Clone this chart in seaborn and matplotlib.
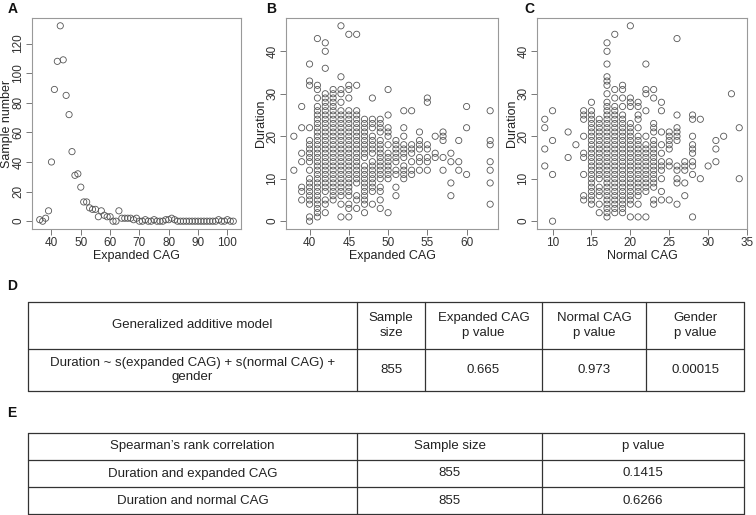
import seaborn as sns
import numpy as np
import pandas as pd
import matplotlib.pyplot as plt

# panel A: number of samples per expanded CAG length
a_cag = [36, 37, 38, 39, 40, 41, 42, 43, 44, 45, 46, 47, 48, 49, 50, 51, 52,
         53, 54, 55, 56, 57, 58, 59, 60, 61, 62, 63, 64, 65, 66, 67, 68, 69,
         70, 71, 72, 73, 74, 75, 76, 77, 78, 79, 80, 81, 82, 83, 84, 85, 86,
         87, 88, 89, 90, 91, 92, 93, 94, 95, 96, 97, 98, 99, 100, 101, 102]
a_count = [1, 0, 2, 7, 40, 89, 108, 132, 109, 85, 72, 47, 31, 32, 23, 13, 13,
           9, 8, 8, 3, 7, 4, 3, 3, 0, 0, 7, 2, 2, 2, 2, 1, 2,
           0, 0, 1, 0, 0, 1, 0, 0, 0, 1, 1, 2, 1, 0, 0, 0, 0,
           0, 0, 0, 0, 0, 0, 0, 0, 0, 0, 1, 0, 0, 1, 0, 0]

# panel B: duration vs expanded CAG (one list of durations per CAG value)
b_cag = [38, 39, 40, 41, 42, 43, 44, 45, 46, 47, 48, 49, 50, 51, 52, 53, 54,
         55, 56, 57, 58, 59, 60, 63]
b_duration = [
    [20, 12],
    [27, 22, 16, 14, 8, 7, 5],
    [37, 33, 32, 22, 19, 18, 17, 16, 15, 14, 12, 10, 9, 8, 7, 6, 5, 4, 1, 0],
    [43, 32, 31, 29, 27, 26, 25, 24, 23, 22, 21, 20, 19, 18, 17, 16, 15, 14,
     13, 12, 11, 10, 9, 8, 7, 6, 5, 4, 3, 2, 1],
    [42, 40, 36, 30, 29, 28, 27, 26, 25, 24, 23, 22, 21, 20, 19, 18, 17, 16,
     15, 14, 13, 12, 11, 10, 9, 8, 7, 5, 4, 2],
    [31, 30, 29, 28, 27, 26, 25, 24, 23, 22, 21, 20, 19, 18, 17, 16, 15, 14,
     13, 12, 11, 10, 9, 8, 7, 6, 5],
    [46, 34, 31, 30, 28, 26, 25, 24, 23, 22, 21, 20, 19, 18, 17, 16, 15, 14,
     13, 12, 11, 10, 9, 8, 7, 6, 4, 1],
    [44, 32, 31, 29, 26, 25, 24, 23, 22, 21, 20, 19, 18, 17, 16, 15, 14, 13,
     12, 11, 10, 9, 8, 7, 6, 4, 3, 1],
    [44, 32, 26, 25, 24, 23, 22, 21, 20, 19, 18, 17, 16, 15, 14, 13, 12, 11,
     10, 9, 6, 5, 3],
    [24, 23, 22, 21, 20, 19, 18, 17, 16, 15, 13, 12, 11, 10, 9, 8, 7, 6, 5, 4, 2],
    [29, 24, 23, 22, 20, 19, 18, 17, 16, 14, 13, 12, 11, 10, 9, 8, 7, 4],
    [24, 23, 22, 21, 19, 18, 17, 16, 15, 14, 13, 12, 11, 10, 8, 7, 5, 3],
    [31, 25, 22, 21, 20, 18, 16, 15, 14, 13, 12, 11, 10, 2],
    [19, 18, 17, 16, 15, 14, 12, 11, 8, 6],
    [26, 22, 20, 18, 17, 16, 15, 13, 12, 11, 10],
    [26, 18, 17, 16, 14, 12, 11],
    [21, 19, 18, 17, 15, 14, 12],
    [29, 28, 18, 17, 15, 14, 12],
    [20, 16, 15],
    [21, 20, 19, 15, 12],
    [16, 14, 9, 6],
    [19, 14, 12],
    [27, 22, 11],
    [26, 19, 18, 14, 12, 9, 4],
]

# panel C: duration vs normal CAG
c_cag = [9, 10, 12, 13, 14, 15, 16, 17, 18, 19, 20, 21, 22, 23, 24, 25, 26,
         27, 28, 29, 30, 31, 32, 33, 34]
c_duration = [
    [24, 22, 17, 13],
    [26, 19, 11, 0],
    [21, 15],
    [18],
    [26, 25, 24, 20, 16, 15, 11, 6, 5],
    [28, 26, 25, 24, 23, 22, 21, 20, 19, 18, 17, 16, 15, 14, 13, 12, 11, 10,
     9, 8, 7, 6, 5, 4],
    [24, 23, 22, 21, 20, 19, 18, 17, 16, 15, 14, 13, 12, 11, 10, 8, 7, 6, 4, 2],
    [42, 40, 37, 34, 33, 32, 30, 28, 27, 26, 25, 24, 23, 22, 21, 20, 19, 18,
     17, 16, 15, 14, 13, 12, 11, 10, 9, 8, 7, 6, 5, 4, 3, 2, 1],
    [44, 31, 29, 27, 26, 25, 24, 23, 22, 21, 20, 19, 18, 17, 16, 15, 14, 13,
     12, 11, 10, 9, 8, 7, 6, 5, 4, 3, 2],
    [32, 31, 29, 27, 25, 24, 23, 22, 21, 20, 19, 18, 17, 16, 15, 14, 13, 12,
     11, 10, 9, 8, 7, 6, 5, 4, 3, 2],
    [46, 29, 28, 27, 23, 22, 21, 20, 19, 18, 17, 16, 15, 14, 13, 12, 11, 10,
     9, 8, 7, 6, 5, 4, 1],
    [28, 27, 25, 24, 22, 20, 19, 18, 17, 16, 15, 14, 13, 12, 11, 10, 9, 8, 7,
     6, 4, 1],
    [37, 31, 30, 26, 20, 18, 17, 16, 15, 14, 13, 12, 11, 10, 9, 8, 7, 1],
    [31, 29, 23, 22, 21, 19, 18, 17, 16, 15, 14, 13, 12, 11, 10, 9, 8, 5, 4],
    [28, 26, 21, 18, 16, 14, 13, 12, 10, 7, 5],
    [21, 20, 19, 18, 17, 14, 13, 5],
    [43, 25, 22, 21, 20, 19, 13, 12, 10, 9, 4],
    [14, 13, 12, 9, 6],
    [25, 24, 20, 18, 17, 16, 14, 13, 11, 1],
    [24, 10],
    [13],
    [19, 17, 14],
    [20],
    [30],
    [22, 10],
]

# tables D and E
d_header = ["Generalized additive model", "Sample\nsize", "Expanded CAG\np value",
            "Normal CAG\np value", "Gender\np value"]
d_row = ["Duration ~ s(expanded CAG) + s(normal CAG) +\ngender", "855", "0.665",
         "0.973", "0.00015"]
e_header = ["Spearman\u2019s rank correlation", "Sample size", "p value"]
e_rows = [["Duration and expanded CAG", "855", "0.1415"],
          ["Duration and normal CAG", "855", "0.6266"]]


def explode(cags, durs):
    rows = [(c, d) for c, ds in zip(cags, durs) for d in ds]
    return pd.DataFrame(rows, columns=["cag", "duration"])


sns.set_style("white")
plt.rcParams["font.family"] = ["Liberation Sans", "DejaVu Sans"]

W, H = 756, 515
fig = plt.figure(figsize=(W / 100, H / 100), dpi=100)


def px_axes(left, top, right, bottom):
    return fig.add_axes([left / W, 1 - bottom / H, (right - left) / W, (bottom - top) / H])


def r_style(ax, xlim, ylim, xticks, yticks, xlabel, ylabel, width_px):
    ax.set_xlim(*xlim)
    ax.set_ylim(*ylim)
    ax.set_xticks(xticks)
    ax.set_yticks(yticks)
    ax.set_xlabel(xlabel, fontsize=9, color="#222222", labelpad=1)
    ax.set_ylabel(ylabel, fontsize=9, color="#222222")
    ax.yaxis.set_label_coords(-19 / width_px, 0.5)
    for s in ax.spines.values():
        s.set_color("#999999")
        s.set_linewidth(0.8)
    ax.tick_params(axis="both", direction="out", length=4, width=0.7,
                   color="#777777", labelsize=8.5, labelcolor="#333333", pad=1.5,
                   bottom=True, left=True)
    for t in ax.get_yticklabels():
        t.set_rotation(90)
        t.set_va("center")


mk = dict(s=20, facecolor="none", edgecolor="#555555", linewidth=0.6)

axA = px_axes(32, 18, 241, 229)
sns.scatterplot(x=a_cag, y=a_count, ax=axA, **mk)
r_style(axA, (33.36, 104.64), (-5.28, 137.28), [40, 50, 60, 70, 80, 90, 100],
        [0, 20, 40, 60, 80, 100, 120], "Expanded CAG", "Sample number", 209)

dfB = explode(b_cag, b_duration)
axB = px_axes(286, 18, 498, 229)
sns.scatterplot(data=dfB, x="cag", y="duration", ax=axB, **mk)
r_style(axB, (37, 64), (-1.84, 47.84), [40, 45, 50, 55, 60], [0, 10, 20, 30, 40],
        "Expanded CAG", "Duration", 212)

dfC = explode(c_cag, c_duration)
axC = px_axes(537, 18, 747, 229)
sns.scatterplot(data=dfC, x="cag", y="duration", ax=axC, **mk)
r_style(axC, (8, 35), (-1.84, 47.84), [10, 15, 20, 25, 30, 35], [0, 10, 20, 30, 40],
        "Normal CAG", "Duration", 210)

# overlay axes in pixel coordinates for labels and tables
ov = fig.add_axes([0, 0, 1, 1], zorder=-1)
ov.set_xlim(0, W)
ov.set_ylim(H, 0)
ov.axis("off")

for lab, x, y in [("A", 8, 9), ("B", 266, 9), ("C", 524, 9), ("D", 7, 286), ("E", 7, 413)]:
    ov.text(x, y, lab, fontsize=10, fontweight="bold", va="center", ha="left", color="#111111")

lc = "#333333"
tk = dict(fontsize=9.5, color="#222222", ha="center", va="center", linespacing=1.25)


def draw_table(xs, ys, rows):
    for y in ys:
        ov.plot([xs[0], xs[-1]], [y, y], color=lc, lw=0.9)
    for x in xs:
        ov.plot([x, x], [ys[0], ys[-1]], color=lc, lw=0.9)
    for r, row in enumerate(rows):
        yc = (ys[r] + ys[r + 1]) / 2
        for c, txt in enumerate(row):
            xc = (xs[c] + xs[c + 1]) / 2
            ov.text(xc, yc, txt, **tk)


draw_table([28, 357, 425, 542, 646, 744], [302, 349, 391], [d_header, d_row])
draw_table([28, 357, 542, 744], [433, 460, 487, 514], [e_header] + e_rows)

fig.savefig("out.png", dpi=100)
